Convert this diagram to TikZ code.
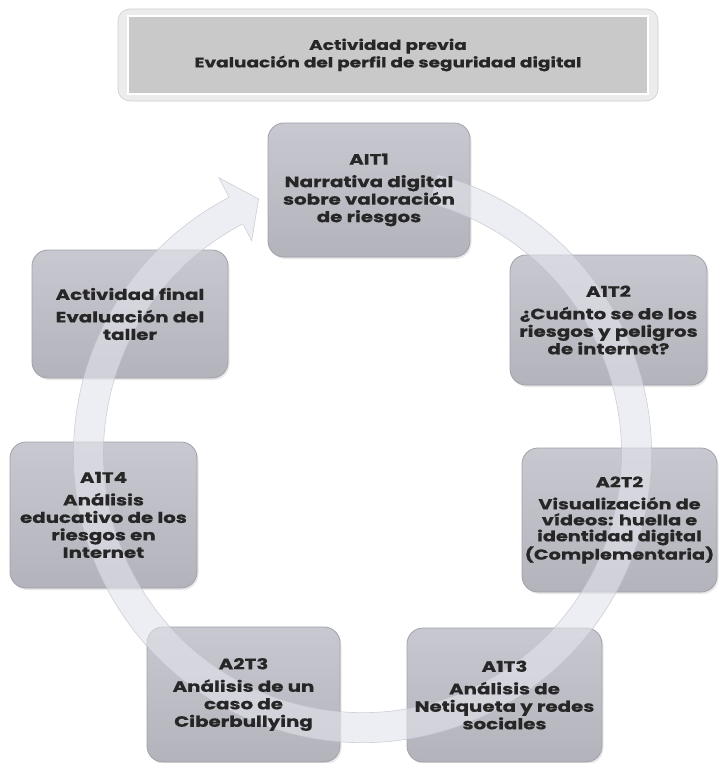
\documentclass[tikz,border=0pt]{standalone}
\usepackage{fontspec}
\setmainfont{Poppins}[FakeStretch=1.32, BoldFeatures={FakeBold=0.6}]
\usetikzlibrary{shadows}

\definecolor{txt}{RGB}{38,38,38}
\definecolor{boxtop}{RGB}{200,201,208}
\definecolor{boxbot}{RGB}{178,179,187}
\definecolor{boxedge}{RGB}{160,161,170}
\definecolor{bandfill}{RGB}{226,227,235}
\definecolor{bandedge}{RGB}{190,191,202}
\definecolor{barframe}{RGB}{236,236,236}
\definecolor{barframeedge}{RGB}{205,205,205}
\definecolor{barpanel}{RGB}{201,201,201}

\tikzset{
  stagebox/.style={rounded corners=16pt, shade, top color=boxtop, bottom color=boxbot,
    draw=boxedge, line width=0.8pt,
    drop shadow={opacity=0.18, shadow xshift=1.5pt, shadow yshift=-2pt}},
  stagetext/.style={align=center, text=txt, font=\fontsize{15}{17.5}\selectfont\bfseries},
  cyclearrow/.style={fill=bandfill, fill opacity=0.62, draw=bandedge, draw opacity=0.7, line width=0.6pt},
}

\begin{document}
\begin{tikzpicture}[x=1pt,y=-1pt]
\useasboundingbox (0,0) rectangle (719,763);

% header bar: light frame with a bevelled grey panel
\node[rounded corners=12pt, fill=barframe, draw=barframeedge, line width=0.6pt,
      minimum width=540pt, minimum height=92pt, inner sep=0pt] (barframe) at (388,55) {};
\node[fill=barpanel, draw=white, line width=1.2pt, minimum width=520pt, minimum height=78pt,
      inner sep=0pt] (barpanel) at (barframe.center) {};
\node[stagetext, font=\fontsize{14}{17.5}\selectfont\bfseries] (bartext) at (barpanel.center)
      {Actividad previa\\Evaluación del perfil de seguridad digital};

% stage boxes (drawn empty, text goes on top of the cycle arrow)
\node[stagebox, minimum width=202pt, minimum height=134pt] (s1) at (369,190) {};
\node[stagebox, minimum width=197pt, minimum height=130pt] (s2) at (608.5,320) {};
\node[stagebox, minimum width=195pt, minimum height=144pt] (s3) at (619.5,520) {};
\node[stagebox, minimum width=195pt, minimum height=134pt] (s4) at (504.5,695) {};
\node[stagebox, minimum width=193pt, minimum height=135pt] (s5) at (243.5,694.5) {};
\node[stagebox, minimum width=187pt, minimum height=146pt] (s6) at (103.5,515) {};
\node[stagebox, minimum width=196pt, minimum height=128pt] (s7) at (130,314) {};

% translucent circular arrow running clockwise round the stages
\begin{scope}[shift={(362.5,453.6)}]
  \coordinate (cc) at (0,0);
  \path[cyclearrow]
    (75:289pt) arc[start angle=75, end angle=-242.5, radius=289pt]
    -- (-242.5:311pt) -- (-247.8:275pt) -- (-242.5:240pt)
    -- (-242.5:259pt) arc[start angle=-242.5, end angle=75, radius=259pt] -- cycle;
\end{scope}

% stage texts
\node[stagetext] (t1) at (s1.center) {AIT1\\[5pt]Narrativa digital\\sobre valoración\\de riesgos};
\node[stagetext] (t2) at (s2.center) {A1T2\\[5pt]¿Cuánto se de los\\riesgos y peligros\\de internet?};
\node[stagetext, font=\fontsize{14.6}{16}\selectfont\bfseries] (t3) at (s3.center)
      {A2T2\\[6pt]Visualización de\\vídeos: huella e\\identidad digital\\(Complementaria)};
\node[stagetext] (t4) at (s4.center) {A1T3\\[5pt]Análisis de\\Netiqueta y redes\\sociales};
\node[stagetext] (t5) at (s5.center) {A2T3\\[5pt]Análisis de un\\caso de\\Ciberbullying};
\node[stagetext] (t6) at (s6.center) {A1T4\\[5pt]Análisis\\educativo de los\\riesgos en\\Internet};
\node[stagetext] (t7) at (s7.center) {Actividad final\\[5pt]Evaluación del\\taller};
\end{tikzpicture}
\end{document}
